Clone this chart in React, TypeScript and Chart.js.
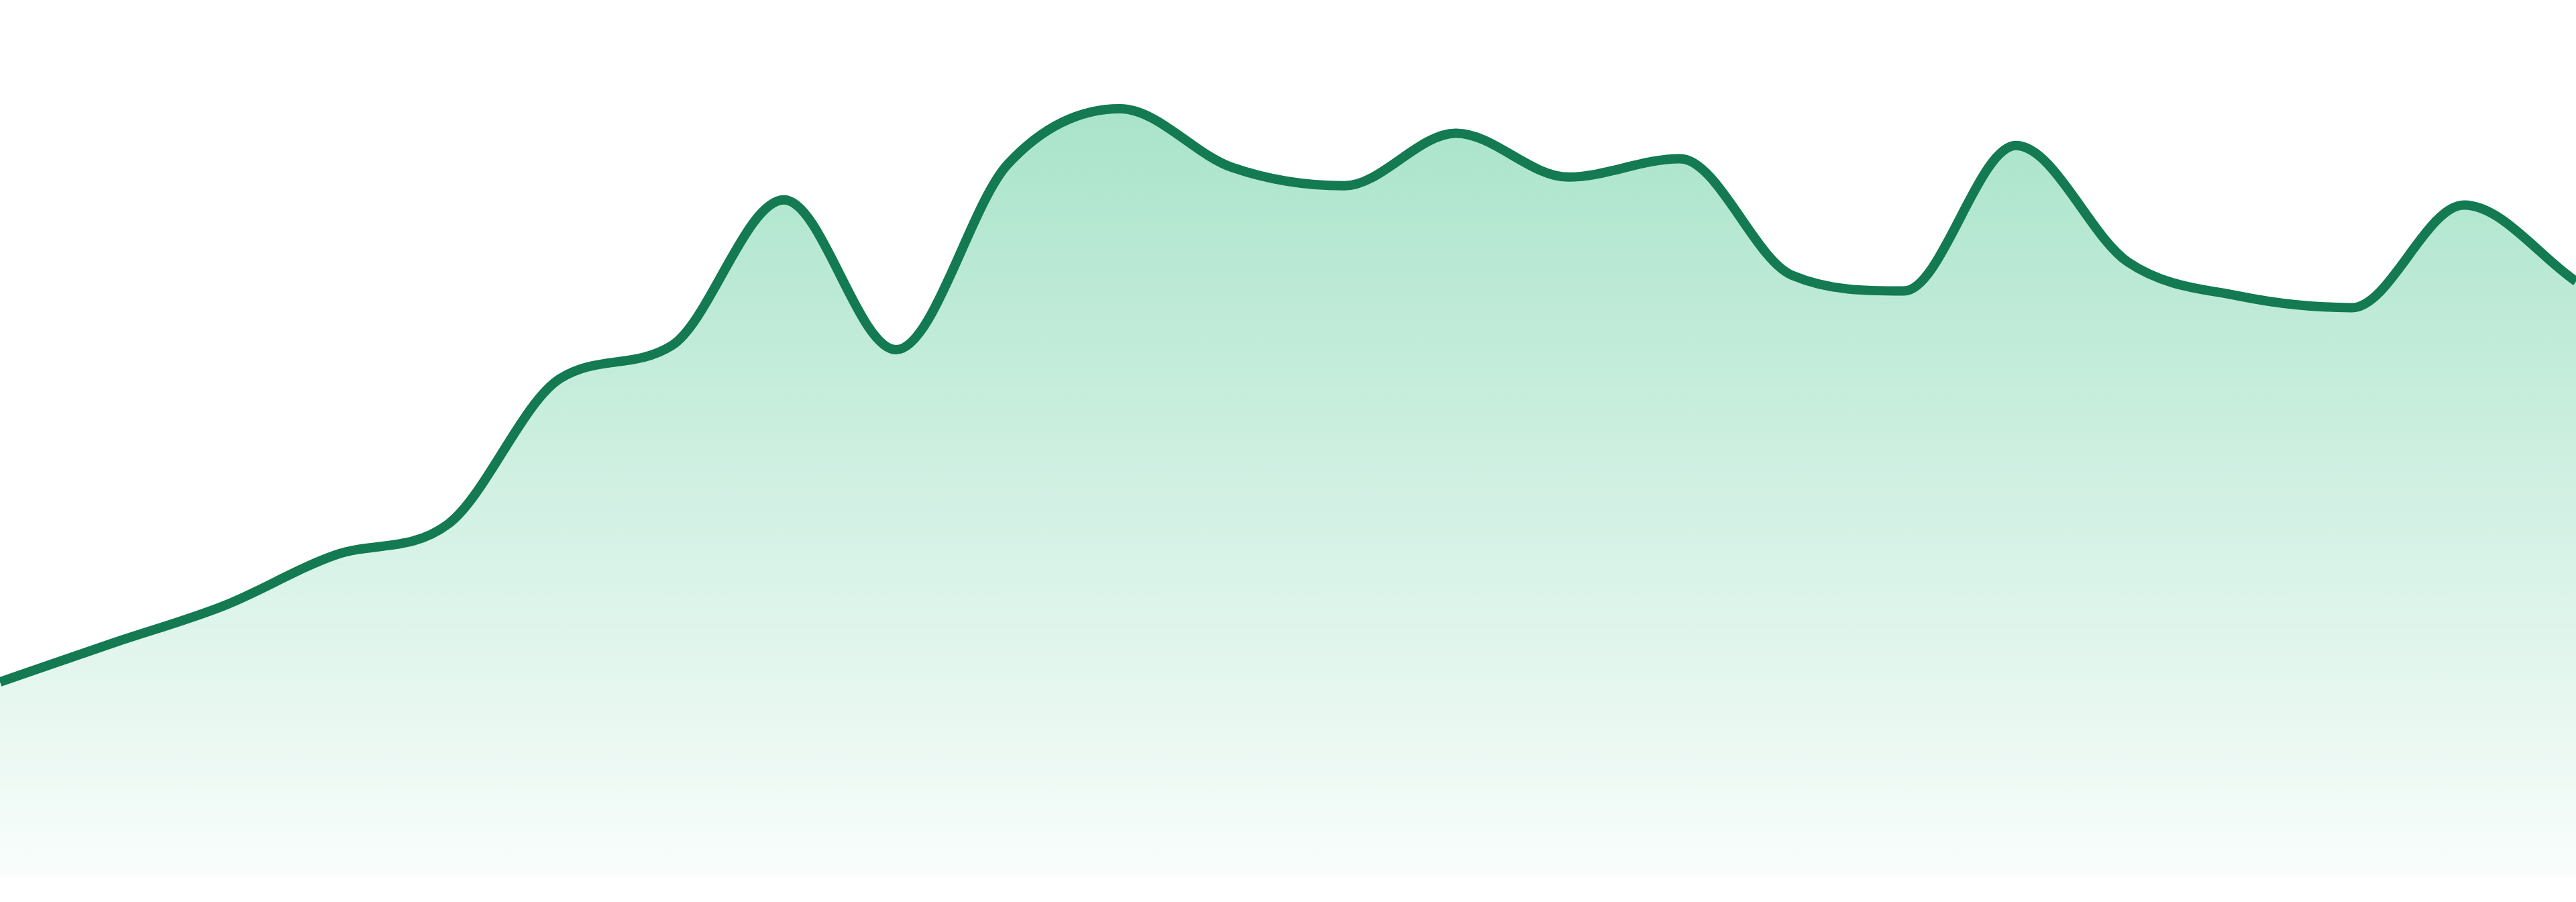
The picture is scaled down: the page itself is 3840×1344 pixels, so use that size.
import React, { useEffect, useRef } from "react";
import { Chart, registerables } from "chart.js";

Chart.register(...registerables);

const labels: string[] = [
  "W1", "W2", "W3", "W4", "W5", "W6", "W7", "W8", "W9", "W10", "W11", "W12",
  "W13", "W14", "W15", "W16", "W17", "W18", "W19", "W20", "W21", "W22", "W23", "W24",
];

const values: number[] = [
  22.2, 26.6, 30.9, 36.7, 40.2, 56.8, 60.6, 77.2, 60.1, 81.3, 87.6, 80.9,
  78.8, 84.8, 79.8, 81.9, 68.6, 66.8, 83.4, 70.1, 66.2, 64.9, 76.6, 67.9,
];

const yMin = 0;
const yMax = 100;

export default function App() {
  const canvasRef = useRef<HTMLCanvasElement | null>(null);

  useEffect(() => {
    const canvas = canvasRef.current;
    if (!canvas) return;
    const chart = new Chart(canvas, {
      type: "line",
      data: {
        labels,
        datasets: [
          {
            data: values,
            borderColor: "rgb(19,122,82)",
            borderWidth: 14,
            cubicInterpolationMode: "monotone",
            tension: 0.4,
            pointRadius: 0,
            pointHoverRadius: 0,
            fill: "start",
            backgroundColor: (ctx: any) => {
              const { chart } = ctx;
              const area = chart.chartArea;
              if (!area) return "rgba(52,190,130,0.25)";
              const g = chart.ctx.createLinearGradient(0, area.top, 0, area.bottom);
              g.addColorStop(0, "rgba(52,190,130,0.48)");
              g.addColorStop(1, "rgba(52,190,130,0.03)");
              return g;
            },
          },
        ],
      },
      options: {
        animation: false,
        responsive: true,
        maintainAspectRatio: false,
        devicePixelRatio: 1,
        layout: { padding: 0 },
        plugins: {
          legend: { display: false },
          tooltip: { enabled: false },
        },
        scales: {
          x: { display: false, offset: false },
          y: { display: false, min: yMin, max: yMax },
        },
      },
    });
    return () => chart.destroy();
  }, []);

  return (
    <div
      style={{
        position: "fixed",
        left: 0,
        top: 0,
        width: "3840px",
        height: "1306px",
        background: "#ffffff",
      }}
    >
      <canvas ref={canvasRef} />
    </div>
  );
}
